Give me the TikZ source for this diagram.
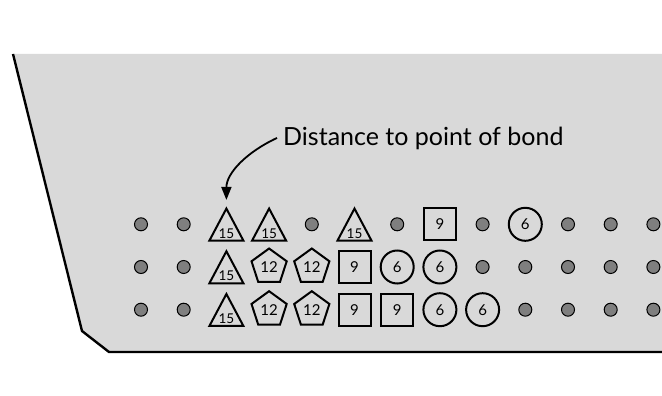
\documentclass[tikz,border=0pt]{standalone}
\usepackage{fontspec}
\setmainfont{Lato}
\usetikzlibrary{shapes.geometric,arrows.meta}
\definecolor{platefill}{HTML}{D9D9D9}
\definecolor{holefill}{HTML}{7F7F7F}
\begin{document}
\begin{tikzpicture}[
  x=1pt, y=-1pt,
  every node/.style={inner sep=0pt, font=\fontsize{15}{15}\selectfont},
  hole/.style={circle, draw, line width=1pt, fill=holefill, minimum size=13pt},
  trib/.style={draw, line width=2pt, isosceles triangle, isosceles triangle stretches,
    shape border rotate=90, minimum width=34pt, minimum height=32pt, yshift=-9pt,
    font=\fontsize{13.5}{13.5}\selectfont},
  pentb/.style={draw, line width=2pt, regular polygon, regular polygon sides=5, minimum size=37pt},
  sqb/.style={draw, line width=2pt, rectangle, minimum size=32pt},
  circb/.style={draw, line width=2pt, circle, minimum size=33pt}
]
\useasboundingbox (0,0) rectangle (662,396);
% plate
\fill[platefill] (13,54) -- (82,331) -- (109,352) -- (662,352) -- (662,54) -- cycle;
\draw[line width=2.4pt] (13,54) -- (82,331) -- (109,352) -- (662,352);
% rows of bolt holes
\foreach \r/\cells in {
  1/{hole/,hole/,trib/15,trib/15,hole/,trib/15,hole/,sqb/9,hole/,circb/6,hole/,hole/,hole/},
  2/{hole/,hole/,trib/15,pentb/12,pentb/12,sqb/9,circb/6,circb/6,hole/,hole/,hole/,hole/,hole/},
  3/{hole/,hole/,trib/15,pentb/12,pentb/12,sqb/9,sqb/9,circb/6,circb/6,hole/,hole/,hole/,hole/}}
{
  \foreach \s/\t [count=\c] in \cells
    \node[\s] (n\r-\c) at ({141+42.7*(\c-1)}, {224.3+42.7*(\r-1)}) {\t};
}
\node[anchor=base west, inner sep=6pt, font=\fontsize{25}{25}\selectfont] (lbl) at (277,145) {Distance to point of bond};
\draw[line width=1.8pt, -{Triangle[length=13pt,width=10pt]}, shorten >=6pt]
  (lbl.west) to[out=205, in=90] (n1-3.north);
\end{tikzpicture}
\end{document}
